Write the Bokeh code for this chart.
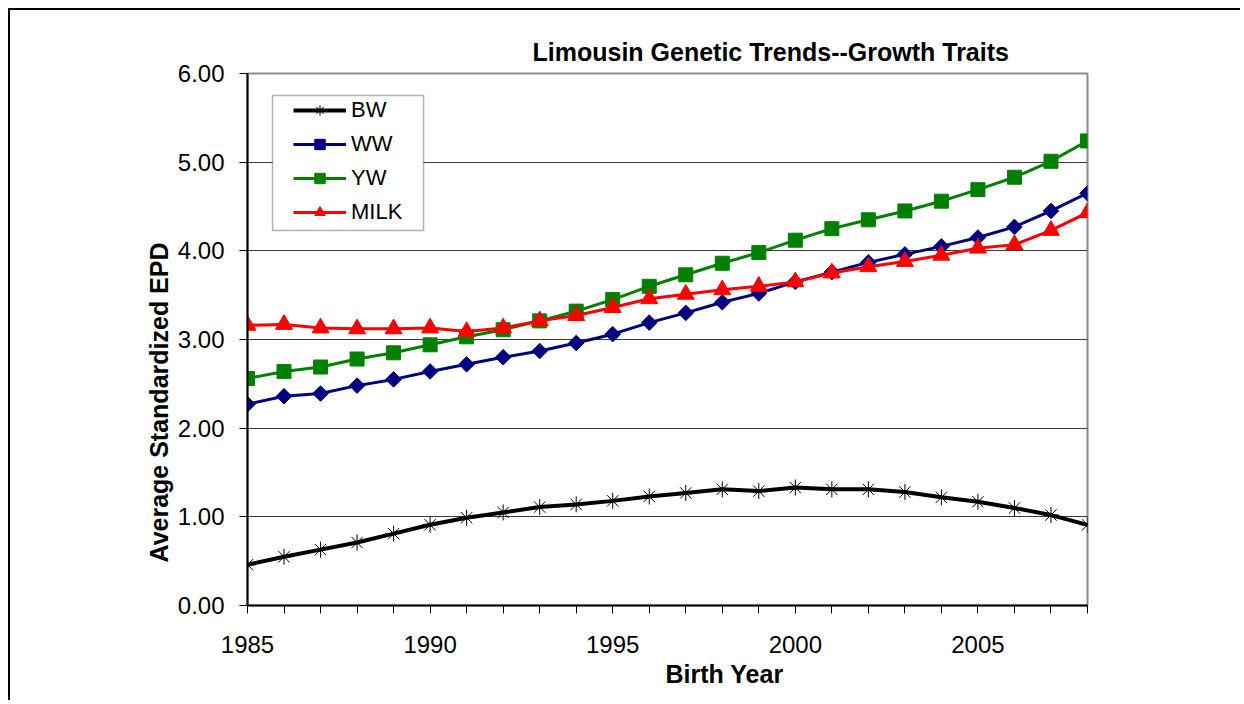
import math
from bokeh.plotting import figure
from bokeh.models import (ColumnDataSource, FixedTicker, Legend, LegendItem, Title,
                          NumeralTickFormatter, BoxAnnotation, Range1d)
from bokeh.embed import file_html
from bokeh.resources import INLINE

# ---- data ----
years = list(range(1985, 2009))
bw = [0.46, 0.55, 0.63, 0.71, 0.81, 0.91, 0.99, 1.05, 1.11, 1.14, 1.18, 1.23,
      1.27, 1.31, 1.29, 1.33, 1.31, 1.31, 1.28, 1.22, 1.17, 1.10, 1.02, 0.91]
ww = [2.27, 2.36, 2.39, 2.48, 2.55, 2.64, 2.72, 2.80, 2.87, 2.96, 3.06, 3.19,
      3.30, 3.42, 3.52, 3.65, 3.76, 3.87, 3.96, 4.05, 4.15, 4.27, 4.45, 4.65]
yw = [2.56, 2.64, 2.69, 2.78, 2.85, 2.94, 3.03, 3.11, 3.21, 3.32, 3.45, 3.60,
      3.73, 3.86, 3.98, 4.12, 4.25, 4.35, 4.45, 4.56, 4.69, 4.83, 5.01, 5.24]
milk = [3.16, 3.17, 3.13, 3.12, 3.12, 3.13, 3.09, 3.13, 3.21, 3.27, 3.36, 3.46,
        3.51, 3.56, 3.60, 3.65, 3.75, 3.82, 3.88, 3.95, 4.03, 4.07, 4.23, 4.43]
series_names = ["BW", "WW", "YW", "MILK"]
y_ticks = [0, 1, 2, 3, 4, 5, 6]
x_label_years = [1985, 1990, 1995, 2000, 2005]
title_text = "Limousin Genetic Trends--Growth Traits"
x_title = "Birth Year"
y_title = "Average Standardized EPD"

FONT = "Liberation Sans"

p = figure(width=1232, height=692, output_backend="svg", toolbar_location=None,
           x_range=Range1d(1985, 2008), y_range=Range1d(0, 6),
           min_border_left=237, min_border_top=63, min_border_right=155,
           min_border_bottom=97)
p.styles = {"margin-left": "8px", "margin-top": "8px",
            "border-left": "2px solid #000000", "border-top": "2px solid #000000"}
p.background_fill_color = "white"
p.border_fill_color = "white"
p.outline_line_color = "#8c8c8c"
p.outline_line_width = 2

# grid
p.xgrid.grid_line_color = None
p.ygrid.grid_line_color = "#3a3a3a"
p.ygrid.grid_line_width = 1
p.ygrid.ticker = FixedTicker(ticks=y_ticks)

# axes
p.xaxis.ticker = FixedTicker(ticks=years)
p.xaxis.major_label_overrides = {y: (str(y) if y in x_label_years else "") for y in years}
p.yaxis.ticker = FixedTicker(ticks=y_ticks)
p.yaxis.formatter = NumeralTickFormatter(format="0.00")
for ax in (p.xaxis[0], p.yaxis[0]):
    ax.axis_line_color = "black"
    ax.axis_line_width = 2
    ax.major_tick_out = 8
    ax.major_tick_in = 0
    ax.major_tick_line_color = "black"
    ax.major_tick_line_width = 1
    ax.minor_tick_line_color = None
    ax.major_label_text_font = FONT
    ax.major_label_text_font_size = "24px"
    ax.major_label_text_color = "black"
p.xaxis.major_label_standoff = 22
p.yaxis.major_label_standoff = 15

# series
specs = [
    (bw, "black", 4, "asterisk", 16, 0, 1),
    (ww, "#000080", 3, "square", 11, math.pi / 4, 1),
    (yw, "#008000", 3, "square", 14, 0, 1),
    (milk, "#ff0000", 3, "triangle", 17, 0, 1),
]
items = []
for name, (vals, color, lw, marker, size, ang, mlw) in zip(series_names, specs):
    src = ColumnDataSource(dict(x=years, y=vals))
    r1 = p.line("x", "y", source=src, line_color=color, line_width=lw, line_join="round")
    r2 = p.scatter("x", "y", source=src, marker=marker, size=size, angle=ang,
                   fill_color=color, line_color=color, line_width=mlw)
    items.append(LegendItem(label=name, renderers=[r1, r2]))

# legend box frame (decoration)
p.add_layout(BoxAnnotation(left=1985.685, right=1989.82, top=5.752, bottom=4.229,
                           fill_color="white", fill_alpha=1.0,
                           line_color="black", line_width=1.5, level="overlay"))
legend = Legend(items=items, location=(46, 380), orientation="vertical",
                label_text_font=FONT, label_text_font_size="22px",
                label_text_color="black", glyph_width=53, glyph_height=26,
                label_height=26, label_standoff=5, spacing=8, padding=0,
                margin=0, border_line_color=None, background_fill_alpha=0)
p.add_layout(legend, "center")

# titles
p.add_layout(Title(text=title_text, align="left", offset=285, text_font=FONT,
                   text_font_size="25px", text_font_style="bold", text_color="black",
                   standoff=16), "above")
p.add_layout(Title(text=x_title, align="left", offset=418, text_font=FONT,
                   text_font_size="25px", text_font_style="bold", text_color="black",
                   standoff=4), "below")
p.add_layout(Title(text=y_title, align="left", offset=43, text_font=FONT,
                   text_font_size="25px", text_font_style="bold", text_color="black",
                   standoff=4), "left")

open("out.html", "w").write(file_html(p, INLINE))
